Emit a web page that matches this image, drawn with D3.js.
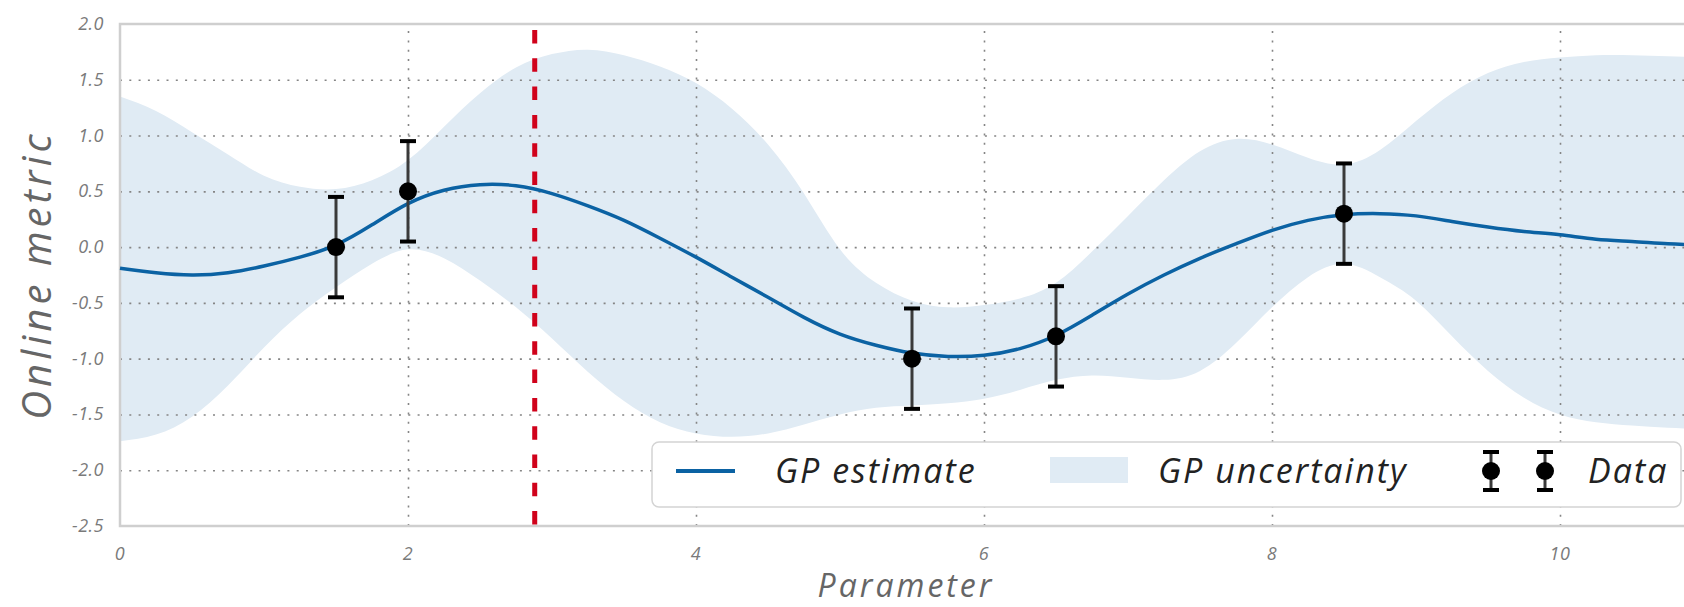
<!DOCTYPE html>
<meta charset="utf-8">
<style>
    body{
        margin: 0;
        background: #fff;
    }
    svg text{
        font-family: "Open Sans", sans-serif;
        font-style: italic;
    }
    .grid line{
        stroke: #858585;
        stroke-width: 1.6;
        stroke-dasharray: 2,7.3;
    }
    .grid path{
        display: none;
    }
    .tick-label{
        fill: #7a7a7a;
        font-size: 18px;
        letter-spacing: 0.5px;
    }
    .axis-title{
        fill: #666;
    }
    .legend-text{
        fill: #222;
        font-size: 34px;
        letter-spacing: 2px;
    }
</style>
<body>
<svg id="chart" width="1684" height="607"></svg>
</body>
<script src="https://cdn.jsdelivr.net/npm/d3@7"></script>
<script>
// values
var paramX = [0.0, 0.25, 0.5, 0.75, 1.0, 1.25, 1.5, 1.75, 2.0, 2.25, 2.5, 2.75, 3.0, 3.25, 3.5, 3.75,
    4.0, 4.25, 4.5, 4.75, 5.0, 5.25, 5.5, 5.75, 6.0, 6.25, 6.5, 6.75, 7.0, 7.25, 7.5, 7.75,
    8.0, 8.25, 8.5, 8.75, 9.0, 9.25, 9.5, 9.75, 10.0, 10.25, 10.5, 10.75, 11.0];
var gpMean = [-0.19, -0.23, -0.25, -0.23, -0.17, -0.09, 0.02, 0.2, 0.39, 0.51, 0.56, 0.55, 0.48, 0.37, 0.24, 0.08,
    -0.09, -0.27, -0.45, -0.63, -0.78, -0.88, -0.95, -0.98, -0.97, -0.91, -0.79, -0.61, -0.42, -0.25, -0.10, 0.03,
    0.15, 0.24, 0.29, 0.30, 0.28, 0.23, 0.18, 0.14, 0.11, 0.07, 0.05, 0.03, 0.02];
var gpUpper = [1.35, 1.22, 1.03, 0.83, 0.64, 0.54, 0.52, 0.6, 0.78, 1.08, 1.38, 1.61, 1.73, 1.77, 1.72, 1.62,
    1.47, 1.24, 0.92, 0.48, -0.02, -0.32, -0.48, -0.54, -0.52, -0.46, -0.32, -0.04, 0.28, 0.6, 0.86, 0.97,
    0.92, 0.8, 0.74, 0.87, 1.13, 1.38, 1.56, 1.66, 1.7, 1.72, 1.72, 1.71, 1.7];
var gpLower = [-1.74, -1.68, -1.52, -1.24, -0.9, -0.6, -0.36, -0.15, -0.02, -0.1, -0.3, -0.54, -0.82, -1.12, -1.38, -1.57,
    -1.67, -1.7, -1.67, -1.59, -1.5, -1.44, -1.42, -1.4, -1.36, -1.28, -1.19, -1.15, -1.17, -1.19, -1.11, -0.86,
    -0.54, -0.27, -0.15, -0.27, -0.48, -0.8, -1.11, -1.35, -1.5, -1.57, -1.6, -1.62, -1.63];

var dataX = [1.5, 2.0, 5.5, 6.5, 8.5];
var dataY = [0.0, 0.5, -1.0, -0.8, 0.3];
var dataErr = [0.45, 0.45, 0.45, 0.45, 0.45];

var nextParam = 2.88;   // red dashed line

var xTicks = [0, 2, 4, 6, 8, 10];
var xTickLabels = ["0", "2", "4", "6", "8", "10"];
var yTicks = [-2.5, -2.0, -1.5, -1.0, -0.5, 0.0, 0.5, 1.0, 1.5, 2.0];
var yTickLabels = ["-2.5", "-2.0", "-1.5", "-1.0", "-0.5", "0.0", "0.5", "1.0", "1.5", "2.0"];

var legendNames = ["GP estimate", "GP uncertainty", "Data"];

var blue = "#0b62a3";
var bandColor = "#e0ebf4";

var svg = d3.select("#chart");

var margin = {left: 120, top: 24, bottom: 81};
var x = d3.scaleLinear().domain([0, 11]).range([margin.left, 1704]);
var y = d3.scaleLinear().domain([-2.5, 2.0]).range([607 - margin.bottom, margin.top]);

var pts = paramX.map(function(p, i) {
    return {x: p, m: gpMean[i], hi: gpUpper[i], lo: gpLower[i]};
});

// uncertainty band
var area = d3.area()
    .x(function(d) { return x(d.x); })
    .y0(function(d) { return y(d.lo); })
    .y1(function(d) { return y(d.hi); })
    .curve(d3.curveNatural);

svg.append("path")
    .datum(pts)
    .attr("d", area)
    .attr("fill", bandColor);

// dotted grid
svg.append("g")
    .attr("class", "grid")
    .attr("transform", "translate(0," + y(-2.5) + ")")
    .call(d3.axisBottom(x).tickValues(xTicks.slice(1)).tickSize(-(y(-2.5) - y(2.0))).tickFormat(""));

svg.append("g")
    .attr("class", "grid")
    .attr("transform", "translate(" + x(0) + ",0)")
    .call(d3.axisLeft(y).tickValues(yTicks.slice(1, -1)).tickSize(-(x(11) - x(0))).tickFormat(""));

// frame
svg.append("rect")
    .attr("x", x(0))
    .attr("y", y(2.0))
    .attr("width", x(11) - x(0))
    .attr("height", y(-2.5) - y(2.0))
    .attr("fill", "none")
    .attr("stroke", "#cfcfcf")
    .attr("stroke-width", 2.5);

// GP mean
var line = d3.line()
    .x(function(d) { return x(d.x); })
    .y(function(d) { return y(d.m); })
    .curve(d3.curveNatural);

svg.append("path")
    .datum(pts)
    .attr("d", line)
    .attr("fill", "none")
    .attr("stroke", blue)
    .attr("stroke-width", 3.5);

// next sample position
svg.append("line")
    .attr("x1", x(nextParam)).attr("x2", x(nextParam))
    .attr("y1", y(2.0)).attr("y2", y(-2.5))
    .attr("stroke", "#d0021b")
    .attr("stroke-width", 5)
    .attr("stroke-dasharray", "13.5,14.8")
    .attr("stroke-dashoffset", 22.3);

// observations with error bars
function errorBar(g, cx, cy, lo, hi) {
    g.append("line")
        .attr("x1", cx).attr("x2", cx)
        .attr("y1", lo).attr("y2", hi)
        .attr("stroke", "#3a3a3a")
        .attr("stroke-width", 3);
    [lo, hi].forEach(function(yy) {
        g.append("line")
            .attr("x1", cx - 8).attr("x2", cx + 8)
            .attr("y1", yy).attr("y2", yy)
            .attr("stroke", "#000")
            .attr("stroke-width", 4);
    });
    g.append("circle")
        .attr("cx", cx).attr("cy", cy)
        .attr("r", 9)
        .attr("fill", "#000");
}

var obs = svg.append("g");
dataX.forEach(function(d, i) {
    errorBar(obs, x(d), y(dataY[i]), y(dataY[i] - dataErr[i]), y(dataY[i] + dataErr[i]));
});

// tick labels
svg.selectAll(".xlab")
    .data(xTicks)
    .enter().append("text")
    .attr("class", "tick-label")
    .attr("x", function(d) { return x(d); })
    .attr("y", 560)
    .attr("text-anchor", "middle")
    .text(function(d, i) { return xTickLabels[i]; });

svg.selectAll(".ylab")
    .data(yTicks)
    .enter().append("text")
    .attr("class", "tick-label")
    .attr("x", 104)
    .attr("y", function(d) { return y(d) + 6; })
    .attr("text-anchor", "end")
    .text(function(d, i) { return yTickLabels[i]; });

// axis titles
svg.append("text")
    .attr("class", "axis-title")
    .attr("x", 906)
    .attr("y", 597)
    .attr("text-anchor", "middle")
    .style("font-size", "32px")
    .style("letter-spacing", "3px")
    .text("Parameter");

svg.append("text")
    .attr("class", "axis-title")
    .attr("transform", "translate(51,275) rotate(-90)")
    .attr("text-anchor", "middle")
    .style("font-size", "40px")
    .style("letter-spacing", "4px")
    .text("Online metric");

// legend
var lg = svg.append("g");
lg.append("rect")
    .attr("x", 652).attr("y", 442)
    .attr("width", 1029).attr("height", 65)
    .attr("rx", 7)
    .attr("fill", "#fff")
    .attr("stroke", "#d4d4d4")
    .attr("stroke-width", 1.5);

lg.append("line")
    .attr("x1", 676).attr("x2", 735)
    .attr("y1", 471).attr("y2", 471)
    .attr("stroke", blue)
    .attr("stroke-width", 4);

lg.append("rect")
    .attr("x", 1050).attr("y", 457)
    .attr("width", 78).attr("height", 26)
    .attr("fill", bandColor);

errorBar(lg, 1491, 471, 490, 452);
errorBar(lg, 1545, 471, 490, 452);

var legendX = [775, 1158, 1588];
lg.selectAll(".legend-text")
    .data(legendNames)
    .enter().append("text")
    .attr("class", "legend-text")
    .attr("x", function(d, i) { return legendX[i]; })
    .attr("y", 483)
    .text(function(d) { return d; });
</script>
